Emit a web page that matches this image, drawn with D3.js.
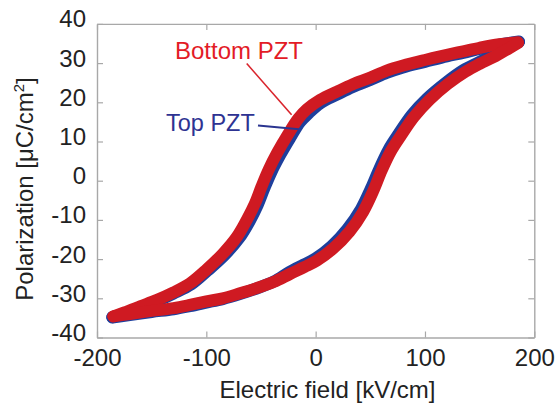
<!DOCTYPE html>
<html><head><meta charset="utf-8">
<script src="https://cdn.jsdelivr.net/npm/d3@7"></script>
<style>
body{margin:0;background:#fff}
text{font-family:"Liberation Sans",Arial,Helvetica,sans-serif}
</style>
</head><body>
<svg id="c" width="556" height="407"></svg>
<script>
// ---- axis ticks ----
const xTicks = [-200, -100, 0, 100, 200];
const yTicks = [-40, -30, -20, -10, 0, 10, 20, 30, 40];

// ---- Bottom PZT (red): descending-field branch ----
const bottomUpperE = [185, 168, 150, 135, 120, 100, 80, 65, 50, 34, 20, 4, -8, -16, -26, -35, -43, -49.5, -55.5, -63, -72, -84.5, -100, -115, -130, -145, -160, -175, -185];
const bottomUpperP = [35.3, 34.8, 33.9, 33.0, 32.1, 30.8, 29.4, 28.1, 26.3, 24.6, 22.8, 20.6, 18.2, 15.8, 11.5, 7.2, 2.8, -1.5, -5.8, -10.0, -14.3, -18.5, -22.7, -26.2, -28.5, -30.4, -32.0, -33.6, -34.6];
// ---- Bottom PZT (red): ascending-field branch ----
const bottomLowerE = [-185, -170, -150, -130, -115, -100, -85, -70, -54, -38, -23.5, -10, 1, 16, 31, 43.5, 52.7, 60.5, 68.8, 78, 90, 104, 121, 137, 150, 166, 177, 185];
const bottomLowerP = [-34.6, -34.0, -33.2, -32.5, -31.7, -30.8, -30.0, -28.8, -27.4, -25.8, -23.8, -22.0, -20.4, -17.3, -13.0, -7.9, -2.6, 2.7, 7.5, 11.5, 16.3, 20.6, 24.7, 27.8, 29.8, 32.0, 33.8, 35.1];

// ---- Top PZT (blue): descending-field branch ----
const topUpperE = [186, 168, 150, 135, 120, 100, 80, 65, 50, 34, 20, 4, -6, -14, -23.5, -32.5, -40.5, -47, -53, -60.5, -70, -83, -99, -114, -130, -145, -160, -175, -186];
const topUpperP = [35.5, 34.7, 33.6, 32.6, 31.7, 30.3, 28.9, 27.5, 25.7, 23.9, 22.0, 19.7, 17.3, 15.0, 10.8, 6.5, 2.2, -2.0, -6.2, -10.4, -14.7, -18.9, -23.0, -26.5, -28.8, -30.7, -32.3, -33.9, -34.8];
// ---- Top PZT (blue): ascending-field branch ----
const topLowerE = [-186, -170, -150, -130, -115, -100, -85, -70, -54, -38, -24, -11, 0, 14.5, 29, 41.5, 50.5, 58.5, 66.8, 76, 88, 102, 119, 135, 149, 165, 176, 186];
const topLowerP = [-34.9, -34.3, -33.5, -32.8, -32.0, -31.1, -30.2, -29.0, -27.5, -25.7, -23.3, -21.4, -19.8, -16.7, -12.3, -7.2, -2.0, 3.2, 8.0, 12.0, 16.8, 21.0, 25.0, 28.2, 30.2, 32.4, 34.0, 35.4];

const xLabel = "Electric field [kV/cm]";
const yLabelMain = "Polarization [\u03BCC/cm";
const yLabelSup = "2";
const yLabelEnd = "]";
const bottomName = "Bottom PZT";
const topName = "Top PZT";

// ---- layout ----
const svg = d3.select("#c");
const mLeft = 97, mRight = 534.3, mTop = 23.9, mBottom = 337.5;
const x = d3.scaleLinear().domain([-200, 200]).range([mLeft, mRight]);
const y = d3.scaleLinear().domain([-40, 40]).range([mBottom, mTop]);
const frameColor = "#a8a8a8";
const textColor = "#222";

function styleAxis(g) {
  g.selectAll(".domain").attr("stroke", frameColor).attr("stroke-width", 1.4);
  g.selectAll(".tick line").attr("stroke", frameColor).attr("stroke-width", 1.2);
  g.selectAll(".tick text").attr("fill", textColor).style("font-size", "24px")
    .style("font-family", '"Liberation Sans",Arial,sans-serif');
}

svg.append("g").attr("transform", `translate(0,${mBottom})`)
  .call(d3.axisBottom(x).tickValues(xTicks).tickSize(-6).tickSizeOuter(0).tickPadding(11.5).tickFormat(d => String(d)))
  .call(styleAxis);
svg.append("g").attr("transform", `translate(0,${mTop})`)
  .call(d3.axisTop(x).tickValues(xTicks).tickSize(-6).tickSizeOuter(0).tickFormat(""))
  .call(styleAxis);
const ly = svg.append("g").attr("transform", `translate(${mLeft},0)`)
  .call(d3.axisLeft(y).tickValues(yTicks).tickSize(-6).tickSizeOuter(0).tickPadding(11).tickFormat(d => String(d)))
  .call(styleAxis);
ly.selectAll(".tick text").attr("dy", "3px");
svg.append("g").attr("transform", `translate(${mRight},0)`)
  .call(d3.axisRight(y).tickValues(yTicks).tickSize(-6).tickSizeOuter(0).tickFormat(""))
  .call(styleAxis);

// ---- curves ----
const line = d3.line().x(d => x(d[0])).y(d => y(d[1])).curve(d3.curveCatmullRom.alpha(0.5));
const zip = (a, b) => a.map((v, i) => [v, b[i]]);

const blue = "#1e3f9c";
const red = "#cf1a22";
const lw = 12;

[[topUpperE, topUpperP], [topLowerE, topLowerP]].forEach(([e, p]) => {
  svg.append("path").datum(zip(e, p)).attr("d", line)
    .attr("fill", "none").attr("stroke", blue).attr("stroke-width", lw)
    .attr("stroke-linecap", "round").attr("stroke-linejoin", "round");
});
[[bottomUpperE, bottomUpperP], [bottomLowerE, bottomLowerP]].forEach(([e, p]) => {
  svg.append("path").datum(zip(e, p)).attr("d", line)
    .attr("fill", "none").attr("stroke", red).attr("stroke-width", lw)
    .attr("stroke-linecap", "round").attr("stroke-linejoin", "round");
});

// ---- annotations ----
svg.append("line").attr("x1", 246.7).attr("y1", 63.5).attr("x2", x(-22)).attr("y2", y(16.8))
  .attr("stroke", "#d9242c").attr("stroke-width", 1.6);
svg.append("line").attr("x1", 258).attr("y1", 125.5).attr("x2", x(-15.3)).attr("y2", y(13.1))
  .attr("stroke", "#2b3590").attr("stroke-width", 2);
svg.append("text").attr("x", 175).attr("y", 59).attr("fill", "#e31b26")
  .style("font-size", "24px").text(bottomName);
svg.append("text").attr("x", 166).attr("y", 131).attr("fill", "#2e3392")
  .style("font-size", "23.5px").text(topName);

// ---- axis titles ----
svg.append("text").attr("x", 327.5).attr("y", 398).attr("text-anchor", "middle")
  .attr("fill", textColor).style("font-size", "24px").text(xLabel);
const yt = svg.append("text").attr("transform", "translate(33,189) rotate(-90)")
  .attr("text-anchor", "middle").attr("fill", textColor).style("font-size", "24px");
yt.append("tspan").text(yLabelMain);
yt.append("tspan").attr("dy", "-9").style("font-size", "15px").text(yLabelSup);
yt.append("tspan").attr("dy", "9").text(yLabelEnd);
</script>
</body></html>
